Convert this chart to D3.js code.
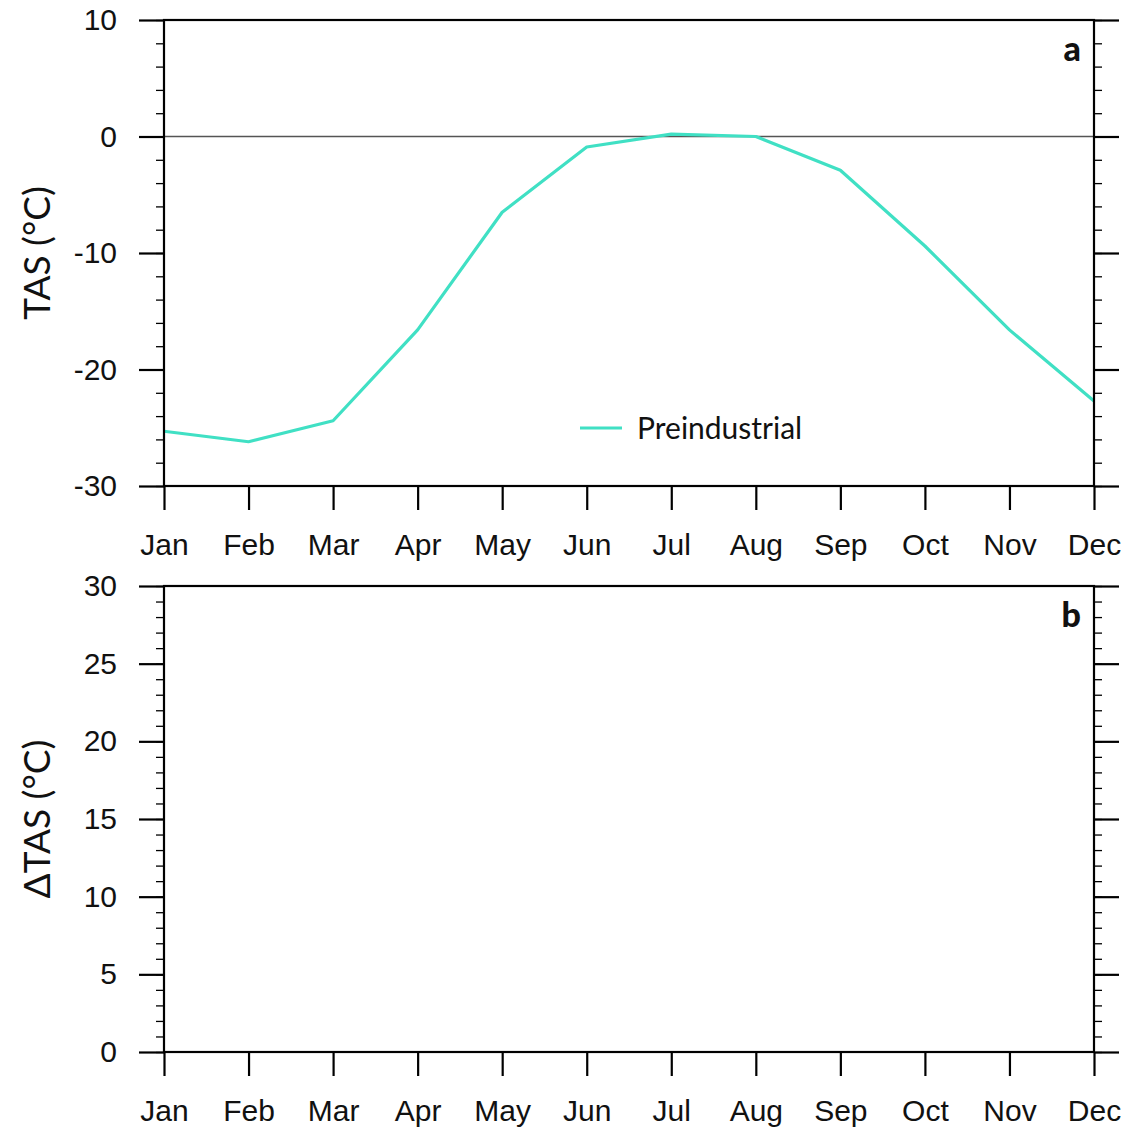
<!DOCTYPE html>
<html>
<head>
<meta charset="utf-8">
<script src="https://cdn.jsdelivr.net/npm/d3@7"></script>
<style>
  html, body { margin: 0; padding: 0; background: #fff; }
  svg { display: block; }
  .tick text { font-family: "Liberation Sans", Arial, sans-serif; }
</style>
</head>
<body>
<svg id="chart" width="1127" height="1130"></svg>
<script>
// Monthly near-surface air temperature (TAS) climatology
const months = ["Jan", "Feb", "Mar", "Apr", "May", "Jun", "Jul", "Aug", "Sep", "Oct", "Nov", "Dec"];
const preindustrialTAS = [-25.3, -26.2, -24.4, -16.6, -6.5, -0.9, 0.2, 0.0, -2.9, -9.4, -16.6, -22.7];

// Axis tick values
const tasTicks = [-30, -20, -10, 0, 10];
const tasMinorTicks = d3.range(-30, 10.001, 2);
const dtasTicks = [0, 5, 10, 15, 20, 25, 30];
const dtasMinorTicks = d3.range(0, 30.001, 1);

const seriesColor = "#40e0c4";

const svg = d3.select("#chart");
const left = 164, right = 1094;

const x = d3.scalePoint().domain(months).range([left, right]);

// plain hyphen for negative tick labels
const fmt = d => String(d);

function drawPanel(cfg) {
  const g = svg.append("g");
  const y = d3.scaleLinear().domain(cfg.domain).range([cfg.bottom, cfg.top]);

  // minor ticks (outward, both sides)
  g.append("g")
    .attr("transform", `translate(${left},0)`)
    .call(d3.axisLeft(y).tickValues(cfg.minor).tickSize(8).tickFormat(""))
    .call(s => s.select(".domain").remove())
    .selectAll("line").attr("stroke", "#000").attr("stroke-width", 1.3);
  g.append("g")
    .attr("transform", `translate(${right},0)`)
    .call(d3.axisRight(y).tickValues(cfg.minor).tickSize(8).tickFormat(""))
    .call(s => s.select(".domain").remove())
    .selectAll("line").attr("stroke", "#000").attr("stroke-width", 1.3);

  // major y ticks with labels on the left
  const yl = g.append("g")
    .attr("transform", `translate(${left},0)`)
    .call(d3.axisLeft(y).tickValues(cfg.major).tickSize(25).tickPadding(22).tickFormat(fmt));
  yl.select(".domain").remove();
  yl.selectAll("line").attr("stroke", "#000").attr("stroke-width", 2.2);
  yl.selectAll("text").attr("font-size", 30).attr("fill", "#111");

  const yr = g.append("g")
    .attr("transform", `translate(${right},0)`)
    .call(d3.axisRight(y).tickValues(cfg.major).tickSize(25).tickFormat(""));
  yr.select(".domain").remove();
  yr.selectAll("line").attr("stroke", "#000").attr("stroke-width", 2.2);

  // month ticks at the bottom
  const xa = g.append("g")
    .attr("transform", `translate(0,${cfg.bottom})`)
    .call(d3.axisBottom(x).tickSize(24).tickPadding(24));
  xa.select(".domain").remove();
  xa.selectAll("line").attr("stroke", "#000").attr("stroke-width", 2.2);
  xa.selectAll("text").attr("font-size", 30).attr("fill", "#111");

  // reference line at zero
  if (cfg.zeroLine) {
    g.append("line")
      .attr("x1", left).attr("x2", right)
      .attr("y1", y(0)).attr("y2", y(0))
      .attr("stroke", "#555").attr("stroke-width", 1.3);
  }

  // data series
  if (cfg.values) {
    g.append("path")
      .datum(cfg.values)
      .attr("fill", "none")
      .attr("stroke", seriesColor)
      .attr("stroke-width", 3.2)
      .attr("stroke-linejoin", "round")
      .attr("d", d3.line().x((d, i) => x(months[i])).y(d => y(d)));
  }

  // frame
  g.append("rect")
    .attr("x", left).attr("y", cfg.top)
    .attr("width", right - left).attr("height", cfg.bottom - cfg.top)
    .attr("fill", "none").attr("stroke", "#000").attr("stroke-width", 2.2);

  // y-axis title
  g.append("text")
    .attr("transform", `translate(50,${(cfg.top + cfg.bottom) / 2}) rotate(-90)`)
    .attr("text-anchor", "middle")
    .attr("font-family", "Lato, 'Open Sans', sans-serif")
    .attr("font-size", 37)
    .attr("fill", "#111")
    .text(cfg.title);

  // panel letter
  g.append("text")
    .attr("x", right - 13).attr("y", cfg.top + 41)
    .attr("text-anchor", "end")
    .attr("font-family", "Lato, 'DejaVu Sans', sans-serif")
    .attr("font-weight", 900)
    .attr("font-size", 34)
    .attr("fill", "#111")
    .text(cfg.letter);

  return y;
}

drawPanel({
  top: 20, bottom: 486, domain: [-30, 10],
  major: tasTicks, minor: tasMinorTicks,
  title: "TAS (°C)", letter: "a",
  zeroLine: true, values: preindustrialTAS
});

drawPanel({
  top: 586, bottom: 1052, domain: [0, 30],
  major: dtasTicks, minor: dtasMinorTicks,
  title: "ΔTAS (°C)", letter: "b"
});

// legend for panel a
const legend = svg.append("g").attr("transform", "translate(580,428)");
legend.append("line")
  .attr("x1", 0).attr("x2", 42).attr("y1", 0).attr("y2", 0)
  .attr("stroke", seriesColor).attr("stroke-width", 3.2);
legend.append("text")
  .attr("x", 57).attr("y", 0).attr("dy", "0.35em")
  .attr("font-family", "Lato, 'Open Sans', sans-serif")
  .attr("font-size", 30)
  .attr("fill", "#111")
  .text("Preindustrial");
</script>
</body>
</html>
